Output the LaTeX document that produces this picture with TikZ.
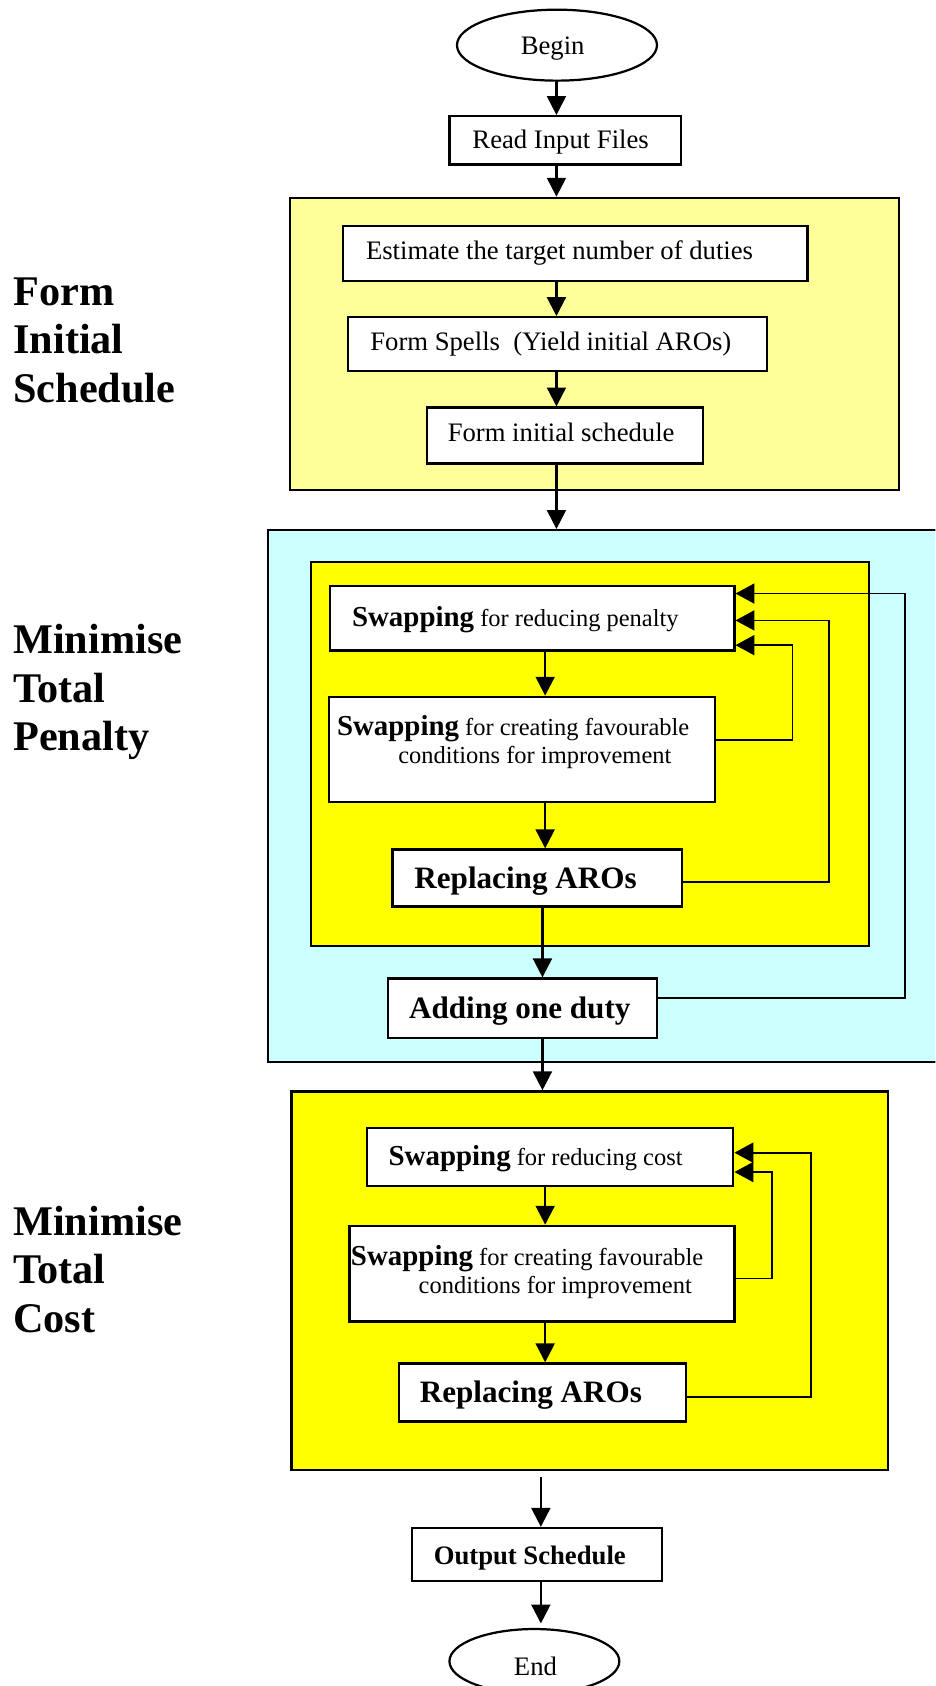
\documentclass[tikz,border=0pt]{standalone}
\usepackage{fontspec}
\setmainfont{Liberation Serif}
\usetikzlibrary{fit,shapes.geometric,arrows.meta}

\definecolor{paleyellow}{HTML}{FFFF99}
\definecolor{brightyellow}{HTML}{FFFF00}
\definecolor{palecyan}{HTML}{CCFFFF}

\newcommand\swapword{{\fontsize{13}{15}\selectfont\bfseries Swapping}}

\begin{document}
\begin{tikzpicture}[x=0.4836pt, y=-0.4836pt,
  frame/.style={draw, rectangle, line width=1pt, inner sep=0pt},
  stepbox/.style={frame, fill=white},
  oval/.style={draw, ellipse, line width=1pt, inner sep=0pt, fill=white},
  plain/.style={inner sep=0pt, anchor=base, font=\fontsize{12}{14}\selectfont},
  txt/.style={inner sep=0pt, anchor=base west, font=\fontsize{12}{14}\selectfont},
  swaptxt/.style={inner sep=0pt, anchor=base west, font=\fontsize{11}{13}\selectfont},
  boldtxt/.style={inner sep=0pt, anchor=base west, font=\fontsize{12}{14}\selectfont\bfseries},
  bigtxt/.style={inner sep=0pt, anchor=base west, font=\fontsize{14}{16}\selectfont\bfseries},
  phase/.style={inner sep=0pt, anchor=base west, font=\fontsize{19}{22}\selectfont\bfseries},
  arr/.style={line width=1pt, -{Triangle[length=8.5pt, width=8.5pt]}},
  back/.style={line width=0.8pt, -{Triangle[length=8.5pt, width=9pt]}},
]
\clip (0,0) rectangle (870,1568);
\fill[white] (0,0) rectangle (870,1568);

% phase frames
\node[frame, fill=paleyellow, fit={(270,184) (836,456)}] (phaseA) {};
\node[frame, fill=palecyan, fit={(249,493) (890,988)}] (phaseB) {};
\node[frame, fill=brightyellow, fit={(289,523) (808,880)}] (loopbox) {};
\node[frame, fill=brightyellow, fit={(271,1015) (826,1367)}] (phaseC) {};

% phase captions
\node[phase] (capA1) at (12,284) {Form};
\node[phase] (capA2) at (12,329) {Initial};
\node[phase] (capA3) at (12,374) {Schedule};
\node[phase] (capB1) at (12,608) {Minimise};
\node[phase] (capB2) at (12,653) {Total};
\node[phase] (capB3) at (12,698) {Penalty};
\node[phase] (capC1) at (12,1149) {Minimise};
\node[phase] (capC2) at (12,1194) {Total};
\node[phase] (capC3) at (12,1239) {Cost};

% start and input
\node[oval, minimum width=186*0.4836pt, minimum height=66*0.4836pt] (begin) at (518,42) {};
\node[plain] (begin-t) at (514,51) {Begin};
\node[stepbox, fit={(418,108) (633,153)}] (read) {};
\node[txt] (read-t) at (439,138) {Read Input Files};

% initial schedule
\node[stepbox, fit={(319,210) (751,261)}] (est) {};
\node[txt] (est-t) at (340,241.5) {Estimate the target number of duties};
\node[stepbox, fit={(324,295) (713,345)}] (spells) {};
\node[txt] (spells-t) at (344,326) {Form Spells\ \ (Yield initial AROs)};
\node[stepbox, fit={(397,379) (654,431)}] (init) {};
\node[txt] (init-t) at (416,411) {Form initial schedule};

% penalty minimisation
\node[stepbox, fit={(307,545) (683,605)}] (pswap) {};
\node[swaptxt] (pswap-t) at (327,583) {\swapword{} for reducing penalty};
\node[stepbox, fit={(306,648) (665,746)}] (pfav) {};
\node[swaptxt] (pfav-t1) at (313,684) {\swapword{} for creating favourable};
\node[swaptxt] (pfav-t2) at (370,710) {conditions for improvement};
\node[stepbox, fit={(365,790) (634,843)}] (prepl) {};
\node[bigtxt] (prepl-t) at (385,826) {Replacing AROs};
\node[stepbox, fit={(361,910) (611,965)}] (add) {};
\node[bigtxt] (add-t) at (380,947) {Adding one duty};

% cost minimisation
\node[stepbox, fit={(341,1049) (682,1103)}] (cswap) {};
\node[swaptxt] (cswap-t) at (361,1084) {\swapword{} for reducing cost};
\node[stepbox, fit={(325,1140) (683,1229)}] (cfav) {};
\node[swaptxt] (cfav-t1) at (326,1177) {\swapword{} for creating favourable};
\node[swaptxt] (cfav-t2) at (389,1203) {conditions for improvement};
\node[stepbox, fit={(371,1268) (638,1322)}] (crepl) {};
\node[bigtxt] (crepl-t) at (390,1304.5) {Replacing AROs};

% output and end
\node[stepbox, fit={(383,1421) (616,1470)}] (out) {};
\node[boldtxt] (out-t) at (403,1455) {Output Schedule};
\node[oval, minimum width=158*0.4836pt, minimum height=60*0.4836pt] (end) at (497,1545) {};
\node[plain] (end-t) at (498,1558) {End};

% vertical lanes of the main flow
\coordinate (laneA) at (517.5,0);
\coordinate (laneB) at (507,0);
\coordinate (laneC) at (504.5,0);
\coordinate (laneD) at (503,0);

\draw[arr] (begin.south -| laneA) -- (read.north -| laneA);
\draw[arr] (read.south -| laneA) -- (phaseA.north -| laneA);
\draw[arr] (est.south -| laneA) -- (spells.north -| laneA);
\draw[arr] (spells.south -| laneA) -- (init.north -| laneA);
\draw[arr] (init.south -| laneA) -- (phaseB.north -| laneA);

\draw[arr] (pswap.south -| laneB) -- (pfav.north -| laneB);
\draw[arr] (pfav.south -| laneB) -- (prepl.north -| laneB);
\draw[arr] (prepl.south -| laneC) -- (add.north -| laneC);
\draw[arr] (add.south -| laneC) -- (phaseC.north -| laneC);

\draw[arr] (cswap.south -| laneB) -- (cfav.north -| laneB);
\draw[arr] (cfav.south -| laneB) -- (crepl.north -| laneB);
\draw[arr] ([yshift=-2.9pt]phaseC.south -| laneD) -- (out.north -| laneD);
\draw[arr] (out.south -| laneD) -- ([yshift=2pt]end.north -| laneD);

% feedback loops, penalty phase
\coordinate (bendA) at (737,600);
\coordinate (bendB) at (771,577);
\coordinate (bendC) at (842,552);
\draw[back] ([yshift=4.1pt]pfav.east) -| (bendA) -- (pswap.east |- bendA);
\draw[back] ([yshift=-1.7pt]prepl.east) -| (bendB) -- (pswap.east |- bendB);
\draw[back] ([yshift=4.6pt]add.east) -| (bendC) -- (pswap.east |- bendC);

% feedback loops, cost phase
\coordinate (bendD) at (718,1090);
\coordinate (bendE) at (754,1072);
\draw[back] ([yshift=-2.2pt]cfav.east) -| (bendD) -- (cswap.east |- bendD);
\draw[back] ([yshift=-1.9pt]crepl.east) -| (bendE) -- (cswap.east |- bendE);
\end{tikzpicture}
\end{document}
